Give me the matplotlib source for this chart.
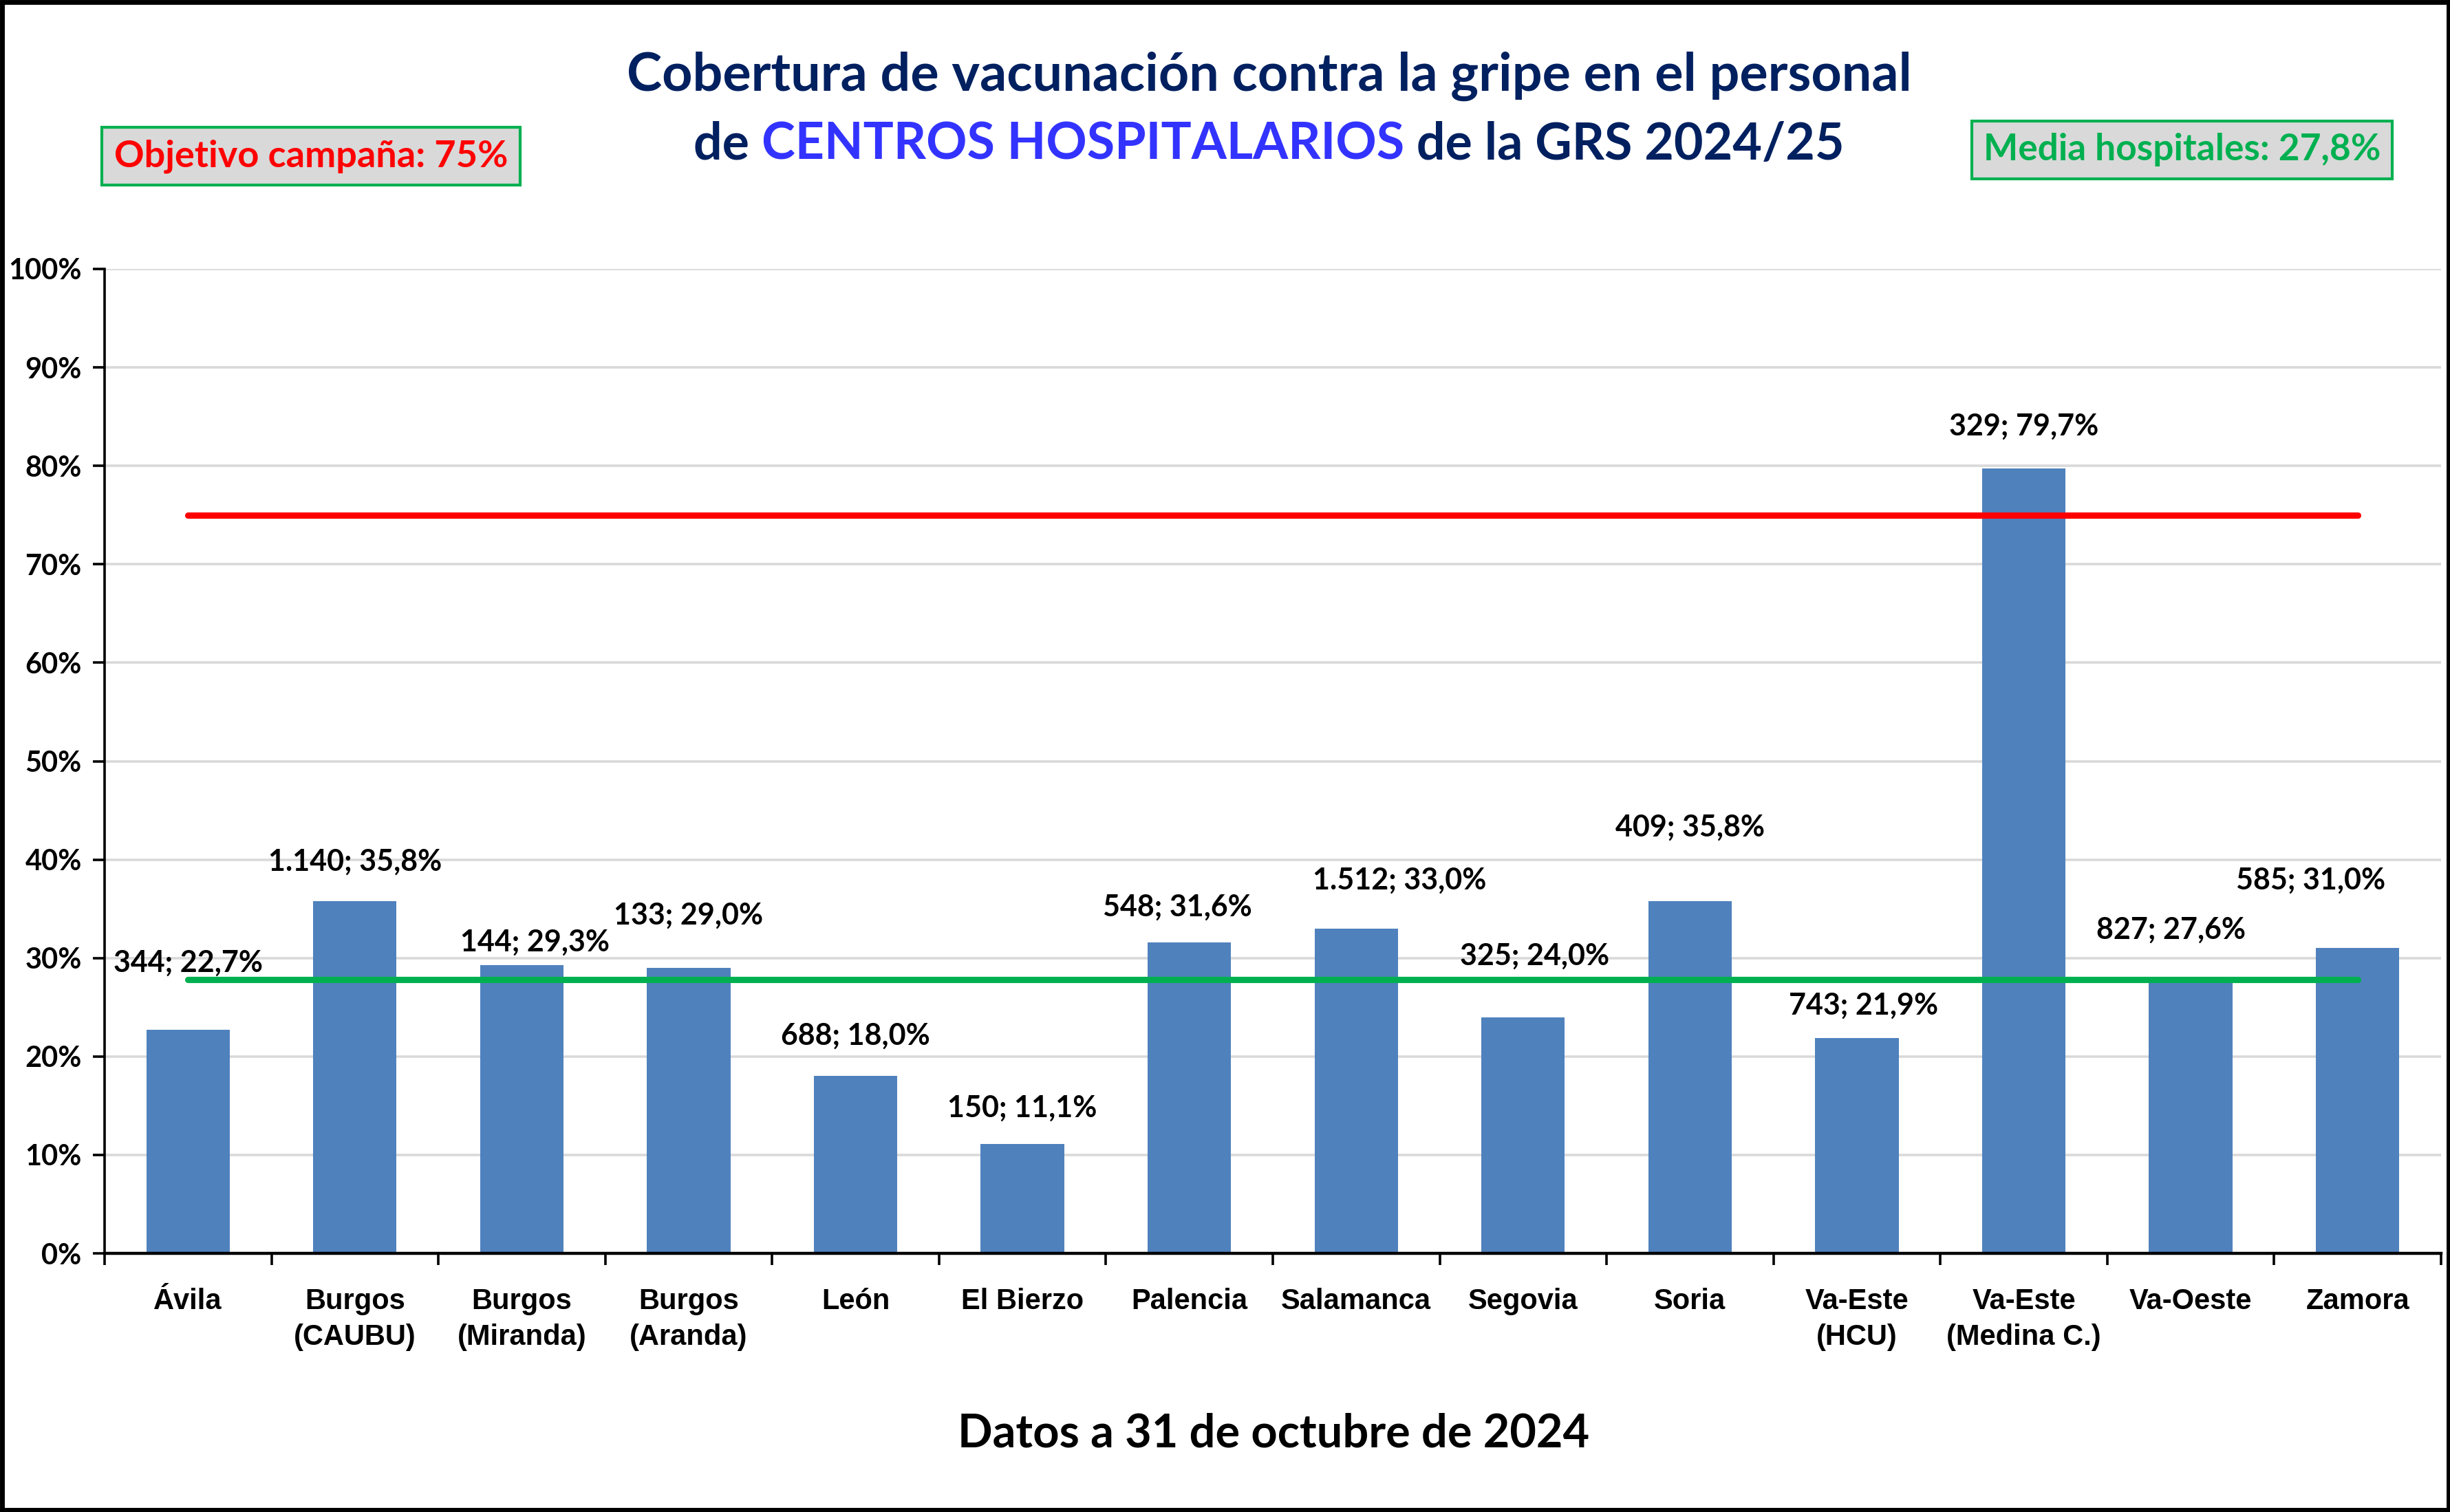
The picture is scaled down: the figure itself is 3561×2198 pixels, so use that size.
import matplotlib
matplotlib.use("Agg")
import matplotlib.pyplot as plt
from matplotlib.patches import Rectangle
from matplotlib.ticker import FixedLocator, NullFormatter

# ---------------- data ----------------
categories = ["Ávila", "Burgos\n(CAUBU)", "Burgos\n(Miranda)", "Burgos\n(Aranda)", "León",
              "El Bierzo", "Palencia", "Salamanca", "Segovia", "Soria", "Va-Este\n(HCU)",
              "Va-Este\n(Medina C.)", "Va-Oeste", "Zamora"]
vaccinated = [344, 1140, 144, 133, 688, 150, 548, 1512, 325, 409, 743, 329, 827, 585]
coverage = [22.7, 35.8, 29.3, 29.0, 18.0, 11.1, 31.6, 33.0, 24.0, 35.8, 21.9, 79.7, 27.6, 31.0]
objective = 75.0
mean_hosp = 27.8
yticks = [0, 10, 20, 30, 40, 50, 60, 70, 80, 90, 100]

# label placement (layout only): offsets from bar centre / bar top
label_dx = [0.0, 0.0, 0.08, 0.0, 0.0, 0.0, -0.07, 0.26, 0.07, 0.0, 0.04, 0.0, -0.12, -0.28]
label_dy = [6.8, 4.0, 2.3, 5.3, 4.1, 3.7, 3.6, 4.9, 6.2, 7.5, 3.3, 4.3, 5.3, 6.9]

# ---------------- style ----------------
BAR = "#4f81bd"
NAVY = "#002060"
BLUE = "#3333ff"
GREEN = "#00b050"
RED = "#ff0000"
TITLE_FONT = ["Lato", "DejaVu Sans"]
NARROW_FONT = ["Liberation Sans Narrow", "Liberation Sans", "DejaVu Sans"]

W, H, DPI = 3562, 2198, 200
fig = plt.figure(figsize=(W / DPI, H / DPI), dpi=DPI)
fig.patch.set_facecolor("white")

ax = fig.add_axes([152 / W, 1 - 1822 / H, (3548 - 152) / W, (1822 - 391) / H])

x = list(range(len(categories)))
ax.bar(x, coverage, width=0.5, color=BAR, zorder=2)

ax.plot([x[0], x[-1]], [objective, objective], color=RED, lw=3.3,
        solid_capstyle="round", zorder=3)
ax.plot([x[0], x[-1]], [mean_hosp, mean_hosp], color=GREEN, lw=3.3,
        solid_capstyle="round", zorder=3)

def fmt_int(n):
    return f"{n:,}".replace(",", ".")

for i, (n, p) in enumerate(zip(vaccinated, coverage)):
    s = f"{p:.1f}".replace(".", ",")
    txt = f"{fmt_int(n)}; {s}%"
    ax.text(i + label_dx[i], p + label_dy[i], txt, ha="center", va="center",
            fontsize=15.5, fontweight="bold", family=TITLE_FONT, color="black", zorder=4)

ax.set_xlim(-0.5, len(categories) - 0.5)
ax.set_ylim(0, 100)
ax.set_yticks(yticks)
ax.set_yticklabels([f"{t}%" for t in yticks], fontsize=15, fontweight="bold", family=TITLE_FONT)
ax.yaxis.grid(True, color="#d9d9d9", lw=1.3, zorder=0)
ax.set_axisbelow(True)

ax.set_xticks(x)
ax.set_xticklabels(categories, fontsize=15, fontweight="bold", family=NARROW_FONT,
                   linespacing=1.4, va="top")
ax.tick_params(axis="x", which="major", length=0, pad=18)
ax.xaxis.set_minor_locator(FixedLocator([i - 0.5 for i in range(len(categories) + 1)]))
ax.xaxis.set_minor_formatter(NullFormatter())
ax.tick_params(axis="x", which="minor", length=6, width=1.3, color="black", direction="out")
ax.tick_params(axis="y", length=6, width=1.3, direction="out", pad=6)

for s in ["top", "right"]:
    ax.spines[s].set_visible(False)
ax.spines["left"].set_linewidth(1.3)
ax.spines["bottom"].set_linewidth(1.6)

# ---------------- title ----------------
TS = 27.8
TS2 = 26.5
fig.text(812 / 1568, 1 - 58 / 968, "Cobertura de vacunación contra la gripe en el personal",
         ha="center", va="baseline", fontsize=TS, fontweight="bold", family=TITLE_FONT, color=NAVY)

fig.canvas.draw()
r = fig.canvas.get_renderer()
parts = [("de ", NAVY), ("CENTROS HOSPITALARIOS", BLUE), (" de la GRS 2024/25", NAVY)]
tmp = []
widths = []
for t, c in parts:
    tt = fig.text(0, 0, t, fontsize=TS2, fontweight="bold", family=TITLE_FONT)
    widths.append(tt.get_window_extent(r).width)
    tmp.append(tt)
for tt in tmp:
    tt.remove()
total = sum(widths)
xstart = 812 / 1568 * W - total / 2
ybase = 1 - 102 / 968
for (t, c), w in zip(parts, widths):
    fig.text(xstart / W, ybase, t, ha="left", va="baseline", fontsize=TS2,
             fontweight="bold", family=TITLE_FONT, color=c)
    xstart += w

# ---------------- boxes ----------------
box = dict(boxstyle="square,pad=0.32", facecolor="#d9d9d9", edgecolor=GREEN, linewidth=1.5)
fig.text(199 / 1568, 1 - 100 / 968, "Objetivo campaña: 75%", ha="center", va="center",
         fontsize=19.5, fontweight="bold", family=TITLE_FONT, color=RED, bbox=box)
fig.text(1396 / 1568, 1 - 96 / 968, "Media hospitales: 27,8%", ha="center", va="center",
         fontsize=19.2, fontweight="bold", family=TITLE_FONT, color=GREEN, bbox=box)

# ---------------- footer ----------------
fig.text(815 / 1568, 1 - 918 / 968, "Datos a 31 de octubre de 2024", ha="center", va="center",
         fontsize=24, fontweight="bold", family=TITLE_FONT, color="black")

# outer border
fig.patches.append(Rectangle((0.0008, 0.0012), 0.9984, 0.9976, transform=fig.transFigure,
                             fill=False, edgecolor="black", linewidth=2.5))

fig.savefig("out.png", dpi=DPI, facecolor="white")
